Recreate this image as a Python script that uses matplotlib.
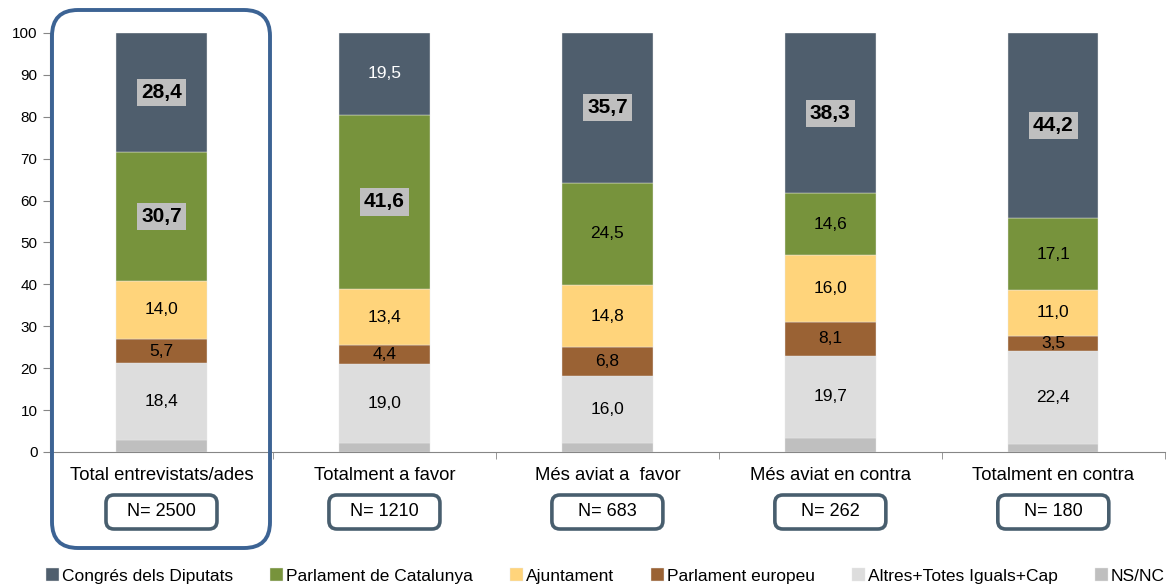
import numpy as np
from matplotlib import pyplot as plt
from matplotlib import transforms
from matplotlib.patches import FancyBboxPatch

plt.rcParams['font.family'] = ['Liberation Sans', 'DejaVu Sans']

categories = ['Total entrevistats/ades', 'Totalment a favor', 'Més aviat a  favor',
              'Més aviat en contra', 'Totalment en contra']
sample_sizes = ['N= 2500', 'N= 1210', 'N= 683', 'N= 262', 'N= 180']

# stacked from the bottom up
nsnc = [2.8, 2.1, 2.2, 3.3, 1.8]
altres = [18.4, 19.0, 16.0, 19.7, 22.4]
europeu = [5.7, 4.4, 6.8, 8.1, 3.5]
ajuntament = [14.0, 13.4, 14.8, 16.0, 11.0]
catalunya = [30.7, 41.6, 24.5, 14.6, 17.1]
congres = [28.4, 19.5, 35.7, 38.3, 44.2]

series = [
    ('NS/NC', nsnc, '#BFBFBF'),
    ('Altres+Totes Iguals+Cap', altres, '#DDDDDD'),
    ('Parlament europeu', europeu, '#9A6234'),
    ('Ajuntament', ajuntament, '#FFD47B'),
    ('Parlament de Catalunya', catalunya, '#77933C'),
    ('Congrés dels Diputats', congres, '#4F5E6D'),
]

W, H = 1171, 587
fig = plt.figure(figsize=(W / 100, H / 100), dpi=100)
ax = fig.add_axes([0.0427, 0.23, 0.952, 0.7138])

x = np.arange(len(categories))
bottom = np.zeros(len(categories))
handles = []
for name, vals, color in series:
    vals = np.array(vals)
    b = ax.bar(x, vals, 0.405, bottom=bottom, color=color, label=name,
               edgecolor='#E8E8E8', linewidth=0.3)
    handles.append(b)
    if name != 'NS/NC':
        for xi, v, bo in zip(x, vals, bottom):
            yc = bo + v / 2
            txt = f'{v:.1f}'.replace('.', ',')
            if v > 25:
                ax.text(xi, yc, txt, ha='center', va='center', fontsize=15,
                        fontweight='bold', color='black',
                        bbox=dict(boxstyle='square,pad=0.2', fc='#BFBFBF', ec='none'))
            else:
                tc = 'white' if name == 'Congrés dels Diputats' else 'black'
                ax.text(xi, yc, txt, ha='center', va='center', fontsize=12.5, color=tc)
    bottom = bottom + vals

ax.set_xlim(-0.5, len(categories) - 0.5)
ax.set_ylim(0, 100)
ax.set_yticks(range(0, 101, 10))
ax.tick_params(axis='y', labelsize=11, length=5, color='#868686', pad=4)
ax.set_xticks(x, categories)
ax.tick_params(axis='x', which='major', length=0, labelsize=13.3, pad=11)
ax.set_xticks(np.arange(-0.5, len(categories)), minor=True)
ax.tick_params(axis='x', which='minor', length=5, color='#868686')
for s in ['top', 'right']:
    ax.spines[s].set_visible(False)
for s in ['left', 'bottom']:
    ax.spines[s].set_color('#868686')

# boxes are placed in pixel coordinates
pix = transforms.IdentityTransform()
fig.canvas.draw()

# sample-size boxes under each category
bw, bh = 111, 34
yc = H - 512
for xi, n in zip(x, sample_sizes):
    xc = ax.transData.transform((xi, 0))[0]
    box = FancyBboxPatch((xc - bw / 2, yc - bh / 2), bw, bh,
                         boxstyle='round,pad=0,rounding_size=8',
                         transform=pix, fc='white', ec='#485E6E', lw=2.6)
    fig.patches.append(box)
    fig.text(xc / W, yc / H, n, ha='center', va='center', fontsize=13)

# highlight frame around the first category
frame = FancyBboxPatch((52, H - 548), 218, 538,
                       boxstyle='round,pad=0,rounding_size=26',
                       transform=pix, fc='none', ec='#3C6394', lw=2.8)
fig.patches.append(frame)

fig.legend(handles[::-1], [s[0] for s in series[::-1]], loc='lower center',
           bbox_to_anchor=(0.517, -0.012), ncol=6, frameon=False, fontsize=12.5,
           handlelength=0.75, handleheight=0.75, handletextpad=0.2,
           columnspacing=2.1, borderaxespad=0.2)

fig.savefig('out.png', dpi=100)
